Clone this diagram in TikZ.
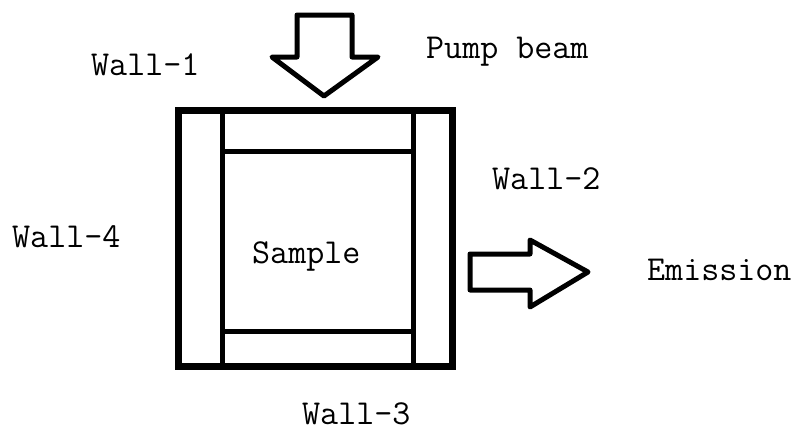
\documentclass[tikz,border=0pt]{standalone}
\usepackage{tikz}
\usetikzlibrary{positioning}

\begin{document}
\begin{tikzpicture}[x=1pt, y=-1pt,
    wall/.style={line width=7pt, line join=miter},
    divide/.style={line width=5pt},
    beam/.style={line width=5pt, line join=round, fill=white},
    lbl/.style={anchor=base west, inner sep=0pt, font=\fontsize{35}{35}\selectfont\ttfamily}]
  \useasboundingbox (0,0) rectangle (798,432);

  % Cell with its four walls
  \draw[wall] (178,110) rectangle (452,366);
  \draw[divide] (222,110) -- (222,366);
  \draw[divide] (413,110) -- (413,366);
  \draw[divide] (222,151) -- (413,151);
  \draw[divide] (222,331) -- (413,331);

  % Pump beam arrow
  \draw[beam] (297,15) -- (352,15) -- (352,57) -- (378,57) -- (324,96)
    -- (272,57) -- (297,57) -- cycle;

  % Emission arrow
  \draw[beam] (470,254) -- (530,254) -- (530,240) -- (588,272) -- (530,307)
    -- (530,290) -- (470,290) -- cycle;

  % Labels
  \node[lbl] (wallone) at (91,75) {Wall-1};
  \node[lbl] (pump) at (426,58) {Pump beam};
  \node[lbl] (walltwo) at (492,189) {Wall-2};
  \node[lbl] (wallfour) at (12,247) {Wall-4};
  \node[lbl] (sample) at (252,263) {Sample};
  \node[lbl] (emission) at (647,280) {Emission};
  \node[lbl] (wallthree) at (302,424) {Wall-3};
\end{tikzpicture}
\end{document}
